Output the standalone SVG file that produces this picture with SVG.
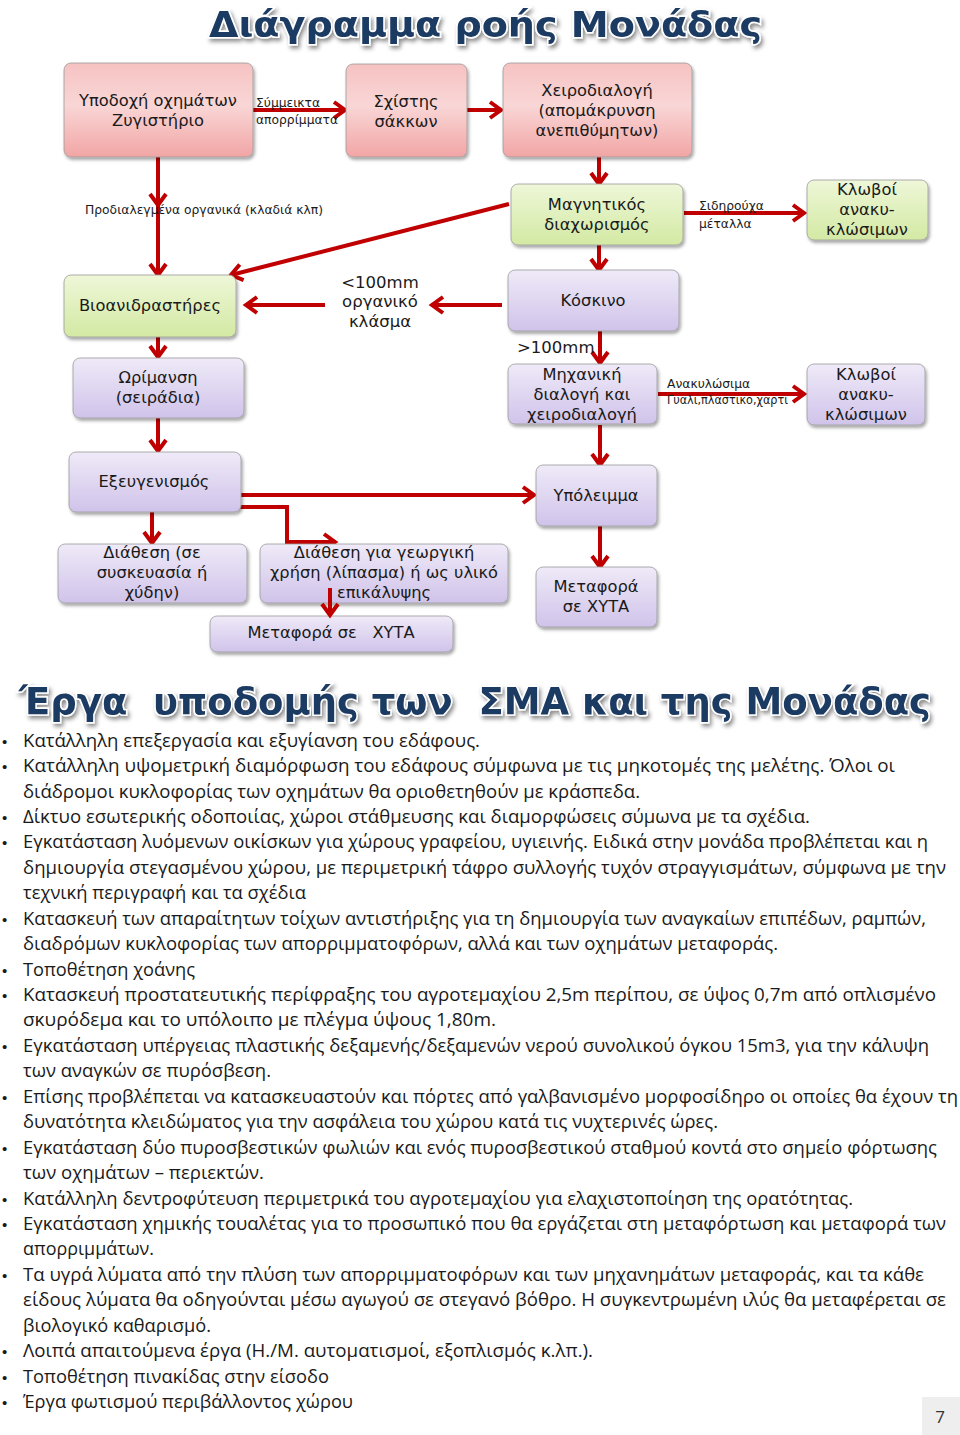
<svg xmlns="http://www.w3.org/2000/svg" width="960" height="1435" viewBox="0 0 960 1435">
<defs>
<style>
.nt{font-family:"DejaVu Sans","Noto Sans",sans-serif;font-size:16.3px;fill:#1a1a1a;text-anchor:middle}
.sl{font-family:"DejaVu Sans","Noto Sans",sans-serif;font-size:12.3px;fill:#1a1a1a}
.ml{font-family:"DejaVu Sans","Noto Sans",sans-serif;font-size:16.5px;fill:#1a1a1a}
.box{stroke:#9a9a9a;stroke-width:0.8;filter:url(#sh)}
.pink{fill:url(#gp)}
.green{fill:url(#gg)}
.purple{fill:url(#gv)}
.conn path{stroke:#c00000;stroke-width:4;fill:none;marker-end:url(#arr)}
.title{font-family:"DejaVu Sans","Noto Sans",sans-serif;font-weight:bold;fill:#1c3a62;stroke:#ffffff;stroke-width:3;paint-order:stroke;filter:url(#tsh)}
.bt{font-family:"Open Sans","Noto Sans",sans-serif;font-size:18px;fill:#1a1a1a}
.bul{font-family:"Liberation Sans",sans-serif;font-size:15px;fill:#1a1a1a}
</style>
<linearGradient id="gp" x1="0" y1="0" x2="0" y2="1">
<stop offset="0" stop-color="#f6c2c2"/><stop offset="0.45" stop-color="#f9d6d6"/><stop offset="1" stop-color="#f2a5a5"/>
</linearGradient>
<linearGradient id="gg" x1="0" y1="0" x2="0" y2="1">
<stop offset="0" stop-color="#eef7d8"/><stop offset="1" stop-color="#d3e9a3"/>
</linearGradient>
<linearGradient id="gv" x1="0" y1="0" x2="0" y2="1">
<stop offset="0" stop-color="#efeaf8"/><stop offset="1" stop-color="#d0c3ea"/>
</linearGradient>
<filter id="sh" x="-10%" y="-10%" width="125%" height="130%">
<feDropShadow dx="1.5" dy="2.5" stdDeviation="1.8" flood-color="#000" flood-opacity="0.35"/>
</filter>
<filter id="tsh" filterUnits="userSpaceOnUse" x="0" y="0" width="960" height="1435">
<feDropShadow dx="2" dy="3" stdDeviation="2" flood-color="#000" flood-opacity="0.45"/>
</filter>
<marker id="arr" markerUnits="userSpaceOnUse" viewBox="0 0 16 20" markerWidth="16" markerHeight="20" refX="13" refY="10" orient="auto" overflow="visible">
<path d="M2,2 L13,10 L2,18" fill="none" stroke="#c00000" stroke-width="4" stroke-linejoin="miter"/>
</marker>
</defs>
<rect width="960" height="1435" fill="#ffffff"/>

<text class="title" x="209" y="37" font-size="36" textLength="553" lengthAdjust="spacingAndGlyphs">Διάγραμμα ροής Μονάδας</text>

<g class="conn">
<path d="M253,110 L345,110"/>
<path d="M467,110 L501,110"/>
<path d="M599,157 L599,184"/>
<path d="M158,157 L158,205"/>
<path d="M158,205 L158,275"/>
<path d="M509,204 L231,275"/>
<path d="M684,213 L804,213"/>
<path d="M599,245 L599,270"/>
<path d="M502,305 L432,305"/>
<path d="M325,305 L246,305"/>
<path d="M600,331 L600,363"/>
<path d="M658,394 L804,394"/>
<path d="M600,425 L600,465"/>
<path d="M158,337 L158,357"/>
<path d="M158,418 L158,451"/>
<path d="M237,495 L534,495"/>
<path d="M237,507 L287,507 L287,542 L335,542"/>
<path d="M152,512 L152,543"/>
<path d="M600,526 L600,567"/>
</g>

<g id="n1"><rect class="box pink" x="64" y="63" width="189" height="94" rx="7"/>
<text class="nt" x="158" y="106">Υποδοχή οχημάτων</text><text class="nt" x="158" y="126">Ζυγιστήριο</text></g>
<g id="n2"><rect class="box pink" x="346" y="64" width="121" height="93" rx="7"/>
<text class="nt" x="406" y="107">Σχίστης</text><text class="nt" x="406" y="127">σάκκων</text></g>
<g id="n3"><rect class="box pink" x="503" y="63" width="189" height="94" rx="7"/>
<text class="nt" x="597" y="96">Χειροδιαλογή</text><text class="nt" x="597" y="116">(απομάκρυνση</text><text class="nt" x="597" y="136">ανεπιθύμητων)</text></g>
<g id="n4"><rect class="box green" x="511" y="184" width="172" height="61" rx="7"/>
<text class="nt" x="597" y="210">Μαγνητικός</text><text class="nt" x="597" y="230">διαχωρισμός</text></g>
<g id="n5"><rect class="box green" x="807" y="180" width="121" height="60" rx="7"/>
<text class="nt" x="867" y="195">Κλωβοί</text><text class="nt" x="867" y="215">ανακυ-</text><text class="nt" x="867" y="235">κλώσιμων</text></g>
<g id="n6"><rect class="box green" x="64" y="275" width="172" height="62" rx="7"/>
<text class="nt" x="150" y="311">Βιοανιδραστήρες</text></g>
<g id="n7"><rect class="box purple" x="508" y="270" width="171" height="61" rx="7"/>
<text class="nt" x="593" y="306">Κόσκινο</text></g>
<g id="n8"><rect class="box purple" x="508" y="364" width="149" height="60" rx="7"/>
<text class="nt" x="582" y="380">Μηχανική</text><text class="nt" x="582" y="400">διαλογή και</text><text class="nt" x="582" y="420">χειροδιαλογή</text></g>
<g id="n9"><rect class="box purple" x="807" y="364" width="118" height="61" rx="7"/>
<text class="nt" x="866" y="380">Κλωβοί</text><text class="nt" x="866" y="400">ανακυ-</text><text class="nt" x="866" y="420">κλώσιμων</text></g>
<g id="n10"><rect class="box purple" x="73" y="358" width="171" height="60" rx="7"/>
<text class="nt" x="158" y="383">Ωρίμανση</text><text class="nt" x="158" y="403">(σειράδια)</text></g>
<g id="n11"><rect class="box purple" x="69" y="452" width="172" height="60" rx="7"/>
<text class="nt" x="154" y="487">Εξευγενισμός</text></g>
<g id="n12"><rect class="box purple" x="536" y="465" width="121" height="61" rx="7"/>
<text class="nt" x="596" y="501">Υπόλειμμα</text></g>
<g id="n13"><rect class="box purple" x="58" y="544" width="189" height="59" rx="7"/>
<text class="nt" x="152" y="558">Διάθεση (σε</text><text class="nt" x="152" y="578">συσκευασία ή</text><text class="nt" x="152" y="598">χύδην)</text></g>
<g id="n14"><rect class="box purple" x="260" y="544" width="248" height="59" rx="7"/>
<text class="nt" x="384" y="558">Διάθεση για γεωργική</text><text class="nt" x="384" y="578" textLength="228" lengthAdjust="spacingAndGlyphs">χρήση (λίπασμα) ή ως υλικό</text><text class="nt" x="384" y="598">επικάλυψης</text></g>
<g id="n15"><rect class="box purple" x="210" y="616" width="243" height="36" rx="7"/>
<text class="nt" x="331" y="638" xml:space="preserve">Μεταφορά σε   ΧΥΤΑ</text></g>
<g id="n16"><rect class="box purple" x="536" y="567" width="121" height="60" rx="7"/>
<text class="nt" x="596" y="592">Μεταφορά</text><text class="nt" x="596" y="612">σε ΧΥΤΑ</text></g>

<g class="conn"><path d="M330,588 L330,615"/></g>

<g id="labels">
<text class="sl" x="256" y="107">Σύμμεικτα</text>
<text class="sl" x="256" y="124">απορρίμματα</text>
<text class="sl" x="85" y="214" textLength="238" lengthAdjust="spacingAndGlyphs">Προδιαλεγμένα οργανικά (κλαδιά κλπ)</text>
<text class="sl" x="699" y="210">Σιδηρούχα</text>
<text class="sl" x="699" y="228">μέταλλα</text>
<text class="ml" x="380" y="288" text-anchor="middle">&lt;100mm</text>
<text class="ml" x="380" y="307" text-anchor="middle">οργανικό</text>
<text class="ml" x="380" y="327" text-anchor="middle">κλάσμα</text>
<text class="ml" x="517" y="353">&gt;100mm</text>
<text class="sl" x="667" y="388" font-size="11.5">Ανακυλώσιμα</text>
<text class="sl" x="667" y="404" font-size="11" textLength="121" lengthAdjust="spacingAndGlyphs">Γυαλι,πλαστικο,χαρτι</text>
</g>

<text class="title" x="19" y="714" font-size="38" xml:space="preserve" textLength="912" lengthAdjust="spacingAndGlyphs">Έργα  υποδομής των  ΣΜΑ και της Μονάδας</text>

<g id="bullets">
<text class="bul" x="2" y="747">•</text>
<text class="bul" x="2" y="772">•</text>
<text class="bul" x="2" y="823">•</text>
<text class="bul" x="2" y="848">•</text>
<text class="bul" x="2" y="925">•</text>
<text class="bul" x="2" y="976">•</text>
<text class="bul" x="2" y="1001">•</text>
<text class="bul" x="2" y="1052">•</text>
<text class="bul" x="2" y="1103">•</text>
<text class="bul" x="2" y="1154">•</text>
<text class="bul" x="2" y="1205">•</text>
<text class="bul" x="2" y="1230">•</text>
<text class="bul" x="2" y="1281">•</text>
<text class="bul" x="2" y="1357">•</text>
<text class="bul" x="2" y="1383">•</text>
<text class="bul" x="2" y="1408">•</text>
</g>
<g id="body" xml:space="preserve">
<text class="bt" x="23" y="747" textLength="457" lengthAdjust="spacingAndGlyphs">Κατάλληλη επεξεργασία και εξυγίανση του εδάφους.</text>
<text class="bt" x="23" y="772" textLength="872" lengthAdjust="spacingAndGlyphs">Κατάλληλη υψομετρική διαμόρφωση του εδάφους σύμφωνα με τις μηκοτομές της μελέτης.  Όλοι οι</text>
<text class="bt" x="23" y="798" textLength="617" lengthAdjust="spacingAndGlyphs">διάδρομοι κυκλοφορίας των οχημάτων θα οριοθετηθούν με κράσπεδα.</text>
<text class="bt" x="23" y="823" textLength="787" lengthAdjust="spacingAndGlyphs">Δίκτυο εσωτερικής οδοποιίας, χώροι στάθμευσης και διαμορφώσεις σύμωνα με τα σχέδια.</text>
<text class="bt" x="23" y="848" textLength="905" lengthAdjust="spacingAndGlyphs">Εγκατάσταση λυόμενων οικίσκων για χώρους γραφείου, υγιεινής. Ειδικά στην μονάδα προβλέπεται και η</text>
<text class="bt" x="23" y="874" textLength="923" lengthAdjust="spacingAndGlyphs">δημιουργία στεγασμένου χώρου, με περιμετρική τάφρο συλλογής τυχόν στραγγισμάτων,  σύμφωνα με την</text>
<text class="bt" x="23" y="899" textLength="283" lengthAdjust="spacingAndGlyphs">τεχνική περιγραφή και τα σχέδια</text>
<text class="bt" x="23" y="925" textLength="903" lengthAdjust="spacingAndGlyphs">Κατασκευή των απαραίτητων τοίχων αντιστήριξης για τη δημιουργία των αναγκαίων επιπέδων, ραμπών,</text>
<text class="bt" x="23" y="950" textLength="755" lengthAdjust="spacingAndGlyphs">διαδρόμων κυκλοφορίας των απορριμματοφόρων, αλλά και των οχημάτων μεταφοράς.</text>
<text class="bt" x="23" y="976" textLength="172" lengthAdjust="spacingAndGlyphs">Τοποθέτηση χοάνης</text>
<text class="bt" x="23" y="1001" textLength="913" lengthAdjust="spacingAndGlyphs">Κατασκευή προστατευτικής περίφραξης  του αγροτεμαχίου 2,5m περίπου,  σε ύψος 0,7m από οπλισμένο</text>
<text class="bt" x="23" y="1026" textLength="473" lengthAdjust="spacingAndGlyphs">σκυρόδεμα   και το υπόλοιπο με πλέγμα ύψους 1,80m.</text>
<text class="bt" x="23" y="1052" textLength="906" lengthAdjust="spacingAndGlyphs">Εγκατάσταση υπέργειας πλαστικής δεξαμενής/δεξαμενών νερού συνολικού όγκου 15m3, για την κάλυψη</text>
<text class="bt" x="23" y="1077" textLength="248" lengthAdjust="spacingAndGlyphs">των αναγκών σε πυρόσβεση.</text>
<text class="bt" x="23" y="1103" textLength="935" lengthAdjust="spacingAndGlyphs">Επίσης προβλέπεται να κατασκευαστούν και πόρτες από γαλβανισμένο μορφοσίδηρο οι οποίες θα έχουν τη</text>
<text class="bt" x="23" y="1128" textLength="695" lengthAdjust="spacingAndGlyphs">δυνατότητα κλειδώματος για την ασφάλεια του χώρου κατά τις νυχτερινές ώρες.</text>
<text class="bt" x="23" y="1154" textLength="914" lengthAdjust="spacingAndGlyphs">Εγκατάσταση δύο πυροσβεστικών φωλιών και ενός πυροσβεστικού σταθμού κοντά στο σημείο φόρτωσης</text>
<text class="bt" x="23" y="1179" textLength="241" lengthAdjust="spacingAndGlyphs">των οχημάτων – περιεκτών.</text>
<text class="bt" x="23" y="1205" textLength="830" lengthAdjust="spacingAndGlyphs">Κατάλληλη δεντροφύτευση περιμετρικά του αγροτεμαχίου για ελαχιστοποίηση της ορατότητας.</text>
<text class="bt" x="23" y="1230" textLength="923" lengthAdjust="spacingAndGlyphs">Εγκατάσταση χημικής τουαλέτας για το προσωπικό που θα εργάζεται στη μεταφόρτωση και μεταφορά των</text>
<text class="bt" x="23" y="1255" textLength="131" lengthAdjust="spacingAndGlyphs">απορριμμάτων.</text>
<text class="bt" x="23" y="1281" textLength="901" lengthAdjust="spacingAndGlyphs">Τα υγρά  λύματα από την πλύση των απορριμματοφόρων και των μηχανημάτων μεταφοράς, και τα κάθε</text>
<text class="bt" x="23" y="1306" textLength="923" lengthAdjust="spacingAndGlyphs">είδους λύματα θα οδηγούνται μέσω αγωγού σε στεγανό βόθρο. Η συγκεντρωμένη ιλύς θα μεταφέρεται σε</text>
<text class="bt" x="23" y="1332" textLength="188" lengthAdjust="spacingAndGlyphs">βιολογικό καθαρισμό.</text>
<text class="bt" x="23" y="1357" textLength="570" lengthAdjust="spacingAndGlyphs">Λοιπά απαιτούμενα έργα (Η./Μ. αυτοματισμοί, εξοπλισμός κ.λπ.).</text>
<text class="bt" x="23" y="1383" textLength="306" lengthAdjust="spacingAndGlyphs">Τοποθέτηση πινακίδας στην είσοδο</text>
<text class="bt" x="23" y="1408" textLength="330" lengthAdjust="spacingAndGlyphs">Έργα φωτισμού περιβάλλοντος χώρου</text>
</g>

<g id="pagenum">
<rect x="922" y="1397" width="38" height="38" fill="#eeeeee"/>
<text x="940" y="1423" font-family="Open Sans, sans-serif" font-size="17" fill="#333333" text-anchor="middle">7</text>
</g>
</svg>
